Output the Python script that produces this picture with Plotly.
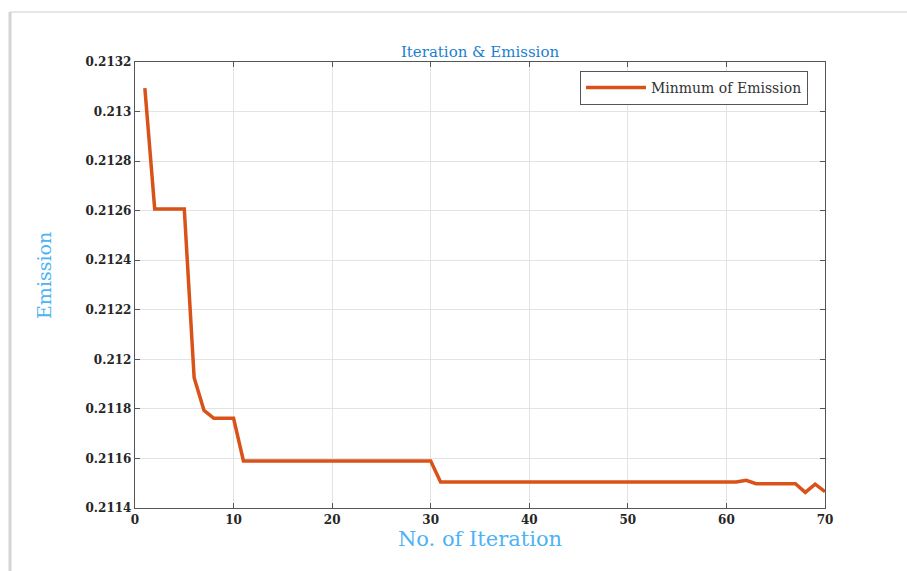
import plotly.graph_objects as go

# Best (minimum) emission found at each iteration of the optimiser
iterations = list(range(1, 71))
emission = [
    0.213095,
    0.212607, 0.212607, 0.212607, 0.212607,
    0.211926, 0.211794,
    0.211762, 0.211762, 0.211762,
    0.211590, 0.211590, 0.211590, 0.211590, 0.211590,
    0.211590, 0.211590, 0.211590, 0.211590, 0.211590,
    0.211590, 0.211590, 0.211590, 0.211590, 0.211590,
    0.211590, 0.211590, 0.211590, 0.211590, 0.211590,
    0.211505, 0.211505, 0.211505, 0.211505, 0.211505,
    0.211505, 0.211505, 0.211505, 0.211505, 0.211505,
    0.211505, 0.211505, 0.211505, 0.211505, 0.211505,
    0.211505, 0.211505, 0.211505, 0.211505, 0.211505,
    0.211505, 0.211505, 0.211505, 0.211505, 0.211505,
    0.211505, 0.211505, 0.211505, 0.211505, 0.211505,
    0.211505,
    0.211512,
    0.211498, 0.211498, 0.211498, 0.211498, 0.211498,
    0.211463, 0.211496, 0.211466,
]

y_tick_vals = [0.2114, 0.2116, 0.2118, 0.2120, 0.2122, 0.2124, 0.2126, 0.2128, 0.2130, 0.2132]
y_tick_text = ["0.2114", "0.2116", "0.2118", "0.212", "0.2122", "0.2124", "0.2126", "0.2128", "0.213", "0.2132"]
x_tick_vals = [0, 10, 20, 30, 40, 50, 60, 70]

W, H = 907, 571
L, R, T, B = 135, 82, 62, 63
pw, ph = W - L - R, H - T - B

def px_x(px):
    return (px - L) / pw

def px_y(py):
    return (H - B - py) / ph

serif = "DejaVu Serif"
tick_font = dict(family=serif, size=12, color="#262626", weight="bold")
label_blue = "#4db3f5"

fig = go.Figure()
fig.add_trace(go.Scatter(
    x=iterations, y=emission, mode="lines",
    name="Minmum of Emission",
    line=dict(color="#d95319", width=3.5),
))

axis_common = dict(
    showline=True, linecolor="#555555", linewidth=1.3,
    mirror="ticks", ticks="inside", ticklen=5, tickcolor="#555555",
    showgrid=True, gridcolor="#e3e3e3", gridwidth=1,
    zeroline=False, tickfont=tick_font,
)

fig.update_layout(
    width=W, height=H,
    margin=dict(l=L, r=R, t=T, b=B, autoexpand=False),
    paper_bgcolor="white", plot_bgcolor="white",
    title=dict(
        text="Iteration &amp; Emission",
        font=dict(family=serif, size=15, color="#1a7fd0"),
        x=0.5, xref="paper", y=1 - 52 / H, yref="container",
        xanchor="center", yanchor="middle",
    ),
    xaxis=dict(
        range=[0, 70], tickvals=x_tick_vals,
        title=dict(text="No. of Iteration", font=dict(family=serif, size=21, color=label_blue), standoff=2),
        **axis_common,
    ),
    yaxis=dict(
        range=[0.2114, 0.2132], tickvals=y_tick_vals, ticktext=y_tick_text,
        **axis_common,
    ),
    annotations=[
        dict(text="Emission", textangle=-90, showarrow=False,
             xref="paper", yref="paper", x=px_x(44), y=px_y(276),
             xanchor="center", yanchor="middle",
             font=dict(family=serif, size=19, color=label_blue)),
    ],
    showlegend=True,
    legend=dict(
        x=px_x(808), y=px_y(71), xanchor="right", yanchor="top",
        bgcolor="white", bordercolor="#555555", borderwidth=1,
        font=dict(family=serif, size=14, color="#333333"),
        itemwidth=60, tracegroupgap=0,
    ),
    shapes=[
        # soft page frame along the top and left edges
        dict(type="line", xref="paper", yref="paper",
             x0=px_x(10), x1=px_x(W), y0=px_y(12), y1=px_y(12),
             line=dict(color="#e6e6e6", width=2)),
        dict(type="line", xref="paper", yref="paper",
             x0=px_x(10), x1=px_x(10), y0=px_y(12), y1=px_y(H),
             line=dict(color="#d4d4d4", width=3)),
    ],
)

fig.write_html("out.html")
